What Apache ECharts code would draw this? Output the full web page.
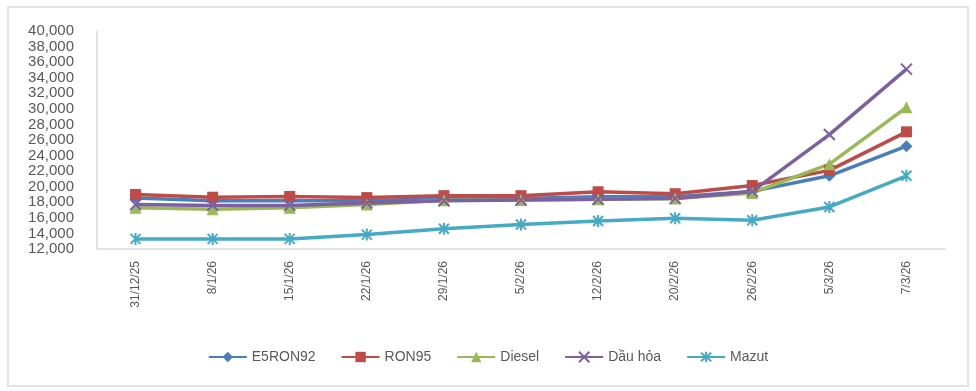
<!DOCTYPE html>
<html><head><meta charset="utf-8">
<script src="https://cdn.jsdelivr.net/npm/echarts@6/dist/echarts.min.js"></script>
<style>html,body{margin:0;padding:0;background:#fff}#c{width:976px;height:391px}</style>
</head><body><div id="c"></div>
<script>
const categories = ['31/12/25','8/1/26','15/1/26','22/1/26','29/1/26','5/2/26','12/2/26','20/2/26','26/2/26','5/3/26','7/3/26'];
const e5ron92 = [18550, 18200, 18200, 18200, 18500, 18500, 18700, 18700, 19400, 21400, 25200];
const ron95   = [19000, 18650, 18750, 18600, 18850, 18850, 19350, 19100, 20150, 22100, 27050];
const diesel  = [17300, 17100, 17300, 17700, 18250, 18300, 18400, 18500, 19200, 22900, 30200];
const dauhoa  = [17700, 17600, 17600, 17900, 18200, 18300, 18400, 18500, 19400, 26700, 35100];
const mazut   = [13300, 13300, 13300, 13850, 14600, 15150, 15600, 15950, 15700, 17400, 21400];
const yTicks = {min: 12000, max: 40000, interval: 2000};

const seriesDefs = [
  {name: 'E5RON92', data: e5ron92, color: '#4a7ebb', symbol: 'diamond', size: 12},
  {name: 'RON95', data: ron95, color: '#be4b48', symbol: 'rect', size: 11},
  {name: 'Diesel', data: diesel, color: '#98b954', symbol: 'triangle', size: 12},
  {name: 'Dầu hỏa', data: dauhoa, color: '#7d60a0', symbol: 'path://M0,0L10,10M10,0L0,10', size: 11},
  {name: 'Mazut', data: mazut, color: '#46aac5', symbol: 'path://M0,0L10,10M10,0L0,10M5,-1L5,11', size: 12}
];

const chart = echarts.init(document.getElementById('c'), null, {renderer: 'canvas'});
chart.setOption({
  animation: false,
  backgroundColor: '#fff',
  graphic: [{type: 'rect', shape: {x: 8, y: 7, width: 960, height: 379}, style: {fill: 'none', stroke: '#d9d9d9', lineWidth: 1.5}}],
  grid: {left: 97, top: 31, width: 848, height: 218},
  legend: {
    bottom: 22, left: 'center', itemWidth: 38, itemHeight: 13, itemGap: 25,
    textStyle: {fontFamily: 'Liberation Sans, Arial', fontSize: 14, color: '#595959'},
    data: seriesDefs.map(s => s.name)
  },
  xAxis: {
    type: 'category', data: categories, boundaryGap: true,
    axisLine: {lineStyle: {color: '#d9d9d9', width: 1.5}},
    axisTick: {show: false},
    axisLabel: {rotate: 90, margin: 12, fontSize: 12, color: '#595959', fontFamily: 'Liberation Sans, Arial'}
  },
  yAxis: {
    type: 'value', min: yTicks.min, max: yTicks.max, interval: yTicks.interval,
    axisLine: {show: true, lineStyle: {color: '#d9d9d9', width: 1.5}},
    axisTick: {show: false},
    splitLine: {show: false},
    axisLabel: {margin: 23, fontSize: 15, color: '#595959', fontFamily: 'Liberation Sans, Arial',
      formatter: v => v.toLocaleString('en-US')}
  },
  series: seriesDefs.map(s => ({
    name: s.name, type: 'line', data: s.data,
    symbol: s.symbol, symbolSize: s.size, symbolKeepAspect: true, showAllSymbol: true,
    lineStyle: {color: s.color, width: 3.5},
    itemStyle: {color: s.color, borderColor: s.color, borderWidth: s.symbol.startsWith('path') ? 2 : 0}
  }))
});
</script></body></html>
